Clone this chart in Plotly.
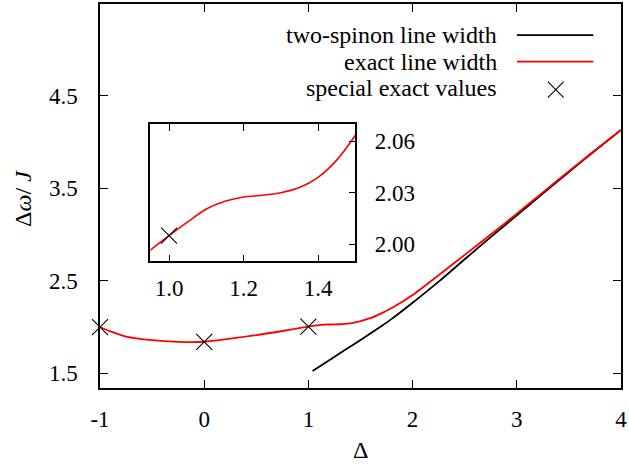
import plotly.graph_objects as go

# ---- data ----
exact_delta = [-1.0, -0.9, -0.75, -0.5, -0.25, 0.0, 0.25, 0.5, 0.75, 0.9, 0.95, 1.0, 1.05, 1.1,
               1.15, 1.2, 1.25, 1.3, 1.35, 1.4, 1.45, 1.5, 1.6, 1.7, 1.8, 1.9, 2.0, 2.25, 2.5,
               2.75, 3.0, 3.25, 3.5, 3.75, 4.0]
exact_width = [2.0, 1.953, 1.897, 1.858, 1.840, 1.841, 1.874, 1.912, 1.957, 1.986, 1.9965, 2.005,
               2.013, 2.0205, 2.025, 2.0275, 2.0285, 2.030, 2.033, 2.039, 2.049, 2.0635, 2.098,
               2.148, 2.205, 2.272, 2.345, 2.56, 2.78, 3.00, 3.225, 3.455, 3.685, 3.91, 4.13]

spinon_delta = [1.04, 1.2, 1.372, 1.5, 1.688, 1.8, 2.0, 2.25, 2.5, 2.75, 3.0, 3.25, 3.5, 3.75, 4.0]
spinon_width = [1.524, 1.64, 1.768, 1.86, 2.0, 2.088, 2.262, 2.49, 2.732, 2.972, 3.207, 3.442, 3.676, 3.905, 4.13]

special_delta = [-1.0, 0.0, 1.0]
special_width = [2.0, 1.84, 2.005]

main_xticks = [-1, 0, 1, 2, 3, 4]
main_xticktext = ["-1", "0", "1", "2", "3", "4"]
main_yticks = [1.5, 2.5, 3.5, 4.5]
main_yticktext = ["1.5", "2.5", "3.5", "4.5"]
inset_xticks = [1.0, 1.2, 1.4]
inset_xticktext = ["1.0", "1.2", "1.4"]
inset_yticks = [2.00, 2.03, 2.06]
inset_yticktext = ["2.00", "2.03", "2.06"]

legend_labels = ["two-spinon line width", "exact line width", "special exact values"]

FONT = "Liberation Serif, Times New Roman, serif"
FS = 23
LFS = 24
RED = "#ff0000"

fig = go.Figure()

# main plot
fig.add_trace(go.Scatter(x=spinon_delta, y=spinon_width, mode="lines",
                         line=dict(color="black", width=1.8, shape="spline", smoothing=0.8),
                         xaxis="x", yaxis="y", showlegend=False))
fig.add_trace(go.Scatter(x=exact_delta, y=exact_width, mode="lines",
                         line=dict(color=RED, width=1.8, shape="spline", smoothing=0.8),
                         xaxis="x", yaxis="y", showlegend=False))
fig.add_trace(go.Scatter(x=special_delta, y=special_width, mode="markers",
                         marker=dict(symbol="x-thin", size=16, line=dict(color="black", width=1.1)),
                         xaxis="x", yaxis="y", showlegend=False, cliponaxis=False))

# inset
fig.add_trace(go.Scatter(x=exact_delta, y=exact_width, mode="lines",
                         line=dict(color=RED, width=1.6, shape="spline", smoothing=0.8),
                         xaxis="x2", yaxis="y2", showlegend=False))
fig.add_trace(go.Scatter(x=special_delta, y=special_width, mode="markers",
                         marker=dict(symbol="x-thin", size=16, line=dict(color="black", width=1.1)),
                         xaxis="x2", yaxis="y2", showlegend=False))

axis_common = dict(showline=True, linecolor="black", linewidth=1.5, ticks="inside",
                   tickcolor="black", tickwidth=1.2, showgrid=False, zeroline=False,
                   ticklabeloverflow="allow",
                   tickfont=dict(family=FONT, size=FS, color="black"))

W, H = 629, 466
ML, MR, MT, MB = 100, 2, 2, 78
pw, ph = W - ML - MR, H - MT - MB

def px2x(p):
    return (p - ML) / pw

def px2y(p):
    return (H - MB - p) / ph

fig.update_layout(
    width=W, height=H,
    margin=dict(l=ML, r=MR, t=MT, b=MB),
    paper_bgcolor="white", plot_bgcolor="white",
    xaxis=dict(axis_common, range=[-1, 4], tickvals=main_xticks, ticktext=main_xticktext,
               mirror="ticks", ticklen=8, ticklabelstandoff=10, domain=[0, 1]),
    yaxis=dict(axis_common, range=[1.341, 5.491], tickvals=main_yticks, ticktext=main_yticktext,
               mirror="ticks", ticklen=8, ticklabelstandoff=16, domain=[0, 1]),
    xaxis2=dict(axis_common, range=[0.95, 1.5], tickvals=inset_xticks, ticktext=inset_xticktext,
                mirror="ticks", ticklen=7, ticklabelstandoff=5, anchor="y2",
                domain=[px2x(151), px2x(358.3)]),
    yaxis2=dict(axis_common, range=[1.99, 2.07], tickvals=inset_yticks, ticktext=inset_yticktext,
                mirror=True, ticklen=7, side="right", ticklabelstandoff=13, anchor="x2",
                domain=[px2y(260.7), px2y(122.7)]),
    showlegend=False,
)

annos = [
    dict(text="Δ", x=px2x(363), y=px2y(450), xref="paper", yref="paper", showarrow=False,
         font=dict(family=FONT, size=FS + 1, color="black"), xanchor="center", yanchor="middle"),
    dict(text="Δ<i>ω</i>/ <i>J</i>", x=px2x(22), y=px2y(197), xref="paper", yref="paper",
         showarrow=False, textangle=-90,
         font=dict(family=FONT, size=FS + 1, color="black"), xanchor="center", yanchor="middle"),
]
row_y = [33.3, 59.8, 86.7]
for lab, ry in zip(legend_labels, row_y):
    annos.append(dict(text=lab, x=px2x(504), y=px2y(ry), xref="paper", yref="paper",
                      showarrow=False, xanchor="right", yanchor="middle",
                      font=dict(family=FONT, size=LFS, color="black")))
fig.update_layout(annotations=annos)

shapes = [
    dict(type="line", xref="paper", yref="paper", x0=px2x(521.7), x1=px2x(599),
         y0=px2y(33.3), y1=px2y(33.3), line=dict(color="black", width=1.8)),
    dict(type="line", xref="paper", yref="paper", x0=px2x(521.7), x1=px2x(599),
         y0=px2y(60), y1=px2y(60), line=dict(color=RED, width=1.8)),
    dict(type="line", xref="paper", yref="paper", x0=px2x(553), x1=px2x(569),
         y0=px2y(80), y1=px2y(96), line=dict(color="black", width=1.1)),
    dict(type="line", xref="paper", yref="paper", x0=px2x(553), x1=px2x(569),
         y0=px2y(96), y1=px2y(80), line=dict(color="black", width=1.1)),
]
fig.update_layout(shapes=shapes)

fig.write_html("out.html")
